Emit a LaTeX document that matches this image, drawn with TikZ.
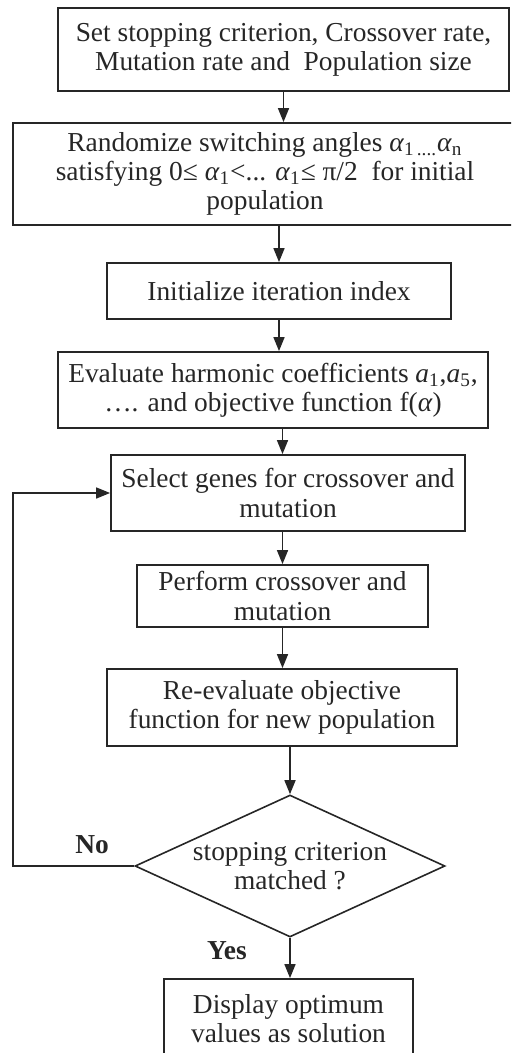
\documentclass[tikz,border=0pt]{standalone}
\usepackage{fontspec}
\setmainfont{Liberation Serif}
\usetikzlibrary{arrows.meta,shapes.geometric}
\definecolor{ink}{HTML}{262626}

\tikzset{
  box/.style={draw=ink, line width=0.9pt, text=ink, align=center, inner sep=2pt,
    font=\fontsize{13.7}{14.6}\selectfont},
  decide/.style={diamond, aspect=2.18, draw=ink, line width=0.8pt, text=ink, align=center,
    inner sep=0pt, font=\fontsize{13.7}{14.6}\selectfont},
  flow/.style={draw=ink, line width=0.8pt, -{Triangle[length=7pt,width=5.5pt]}},
  tag/.style={text=ink, font=\fontsize{13.7}{14.6}\selectfont\bfseries}
}

\begin{document}
\begin{tikzpicture}[x=0.5pt, y=-0.5pt]
\useasboundingbox (0,0) rectangle (511,1053);
\clip (0,0) rectangle (511,1053);

% steps of the genetic search
\node[box, minimum width=225.5pt, minimum height=41.5pt] (setup) at (283.5,49.5)
  {Set stopping criterion, Crossover rate,\\ Mutation rate and\ \ Population size};
\node[box, minimum width=252pt, minimum height=51pt] (rand) at (265,174)
  {Randomize switching angles \textit{α}\textsubscript{1\,....}\textit{α}\textsubscript{n}\\
   satisfying 0≤ \textit{α}\textsubscript{1}<... \textit{α}\textsubscript{1}≤ π/2\ \ for initial\\ population};
\node[box, minimum width=172pt, minimum height=28pt] (init) at (279,291)
  {Initialize iteration index};
\node[box, minimum width=215pt, minimum height=38pt] (eval) at (273,390)
  {Evaluate harmonic coefficients \textit{a}\textsubscript{1},\textit{a}\textsubscript{5},\\
   …. and objective function f(\textit{α})};
\node[box, minimum width=177pt, minimum height=38pt] (select) at (288,493)
  {Select genes for crossover and\\ mutation};
\node[box, minimum width=145.5pt, minimum height=31pt] (perform) at (282.5,596)
  {Perform crossover and\\ mutation};
\node[box, minimum width=175pt, minimum height=38.5pt] (reeval) at (282,707.5)
  {Re-evaluate objective\\ function for new population};
\node[decide, minimum width=155pt, minimum height=71pt] (check) at (290,866)
  {stopping criterion\\ matched ?};
\node[box, minimum width=124.5pt, minimum height=40pt] (show) at (288.5,1019)
  {Display optimum\\ values as solution};

\node[tag] (no) at (92,845) {No};
\node[tag] (yes) at (227,951) {Yes};
\coordinate (back) at (13,866);

% connectors
\draw[flow] (setup.south) -- (setup.south |- rand.north);
\draw[flow] (init.north |- rand.south) -- (init.north);
\draw[flow] (init.south) -- (init.south |- eval.north);
\draw[flow] (eval.south -| perform.north) -- (select.north -| perform.north);
\draw[flow] (select.south -| perform.north) -- (perform.north);
\draw[flow] (perform.south) -- (perform.south |- reeval.north);
\draw[flow] (reeval.south -| check.north) -- (check.north);
\draw[flow] (check.south) -- (check.south |- show.north);
\draw[flow] (check.west) -- (back) |- (select.west);
\end{tikzpicture}
\end{document}
